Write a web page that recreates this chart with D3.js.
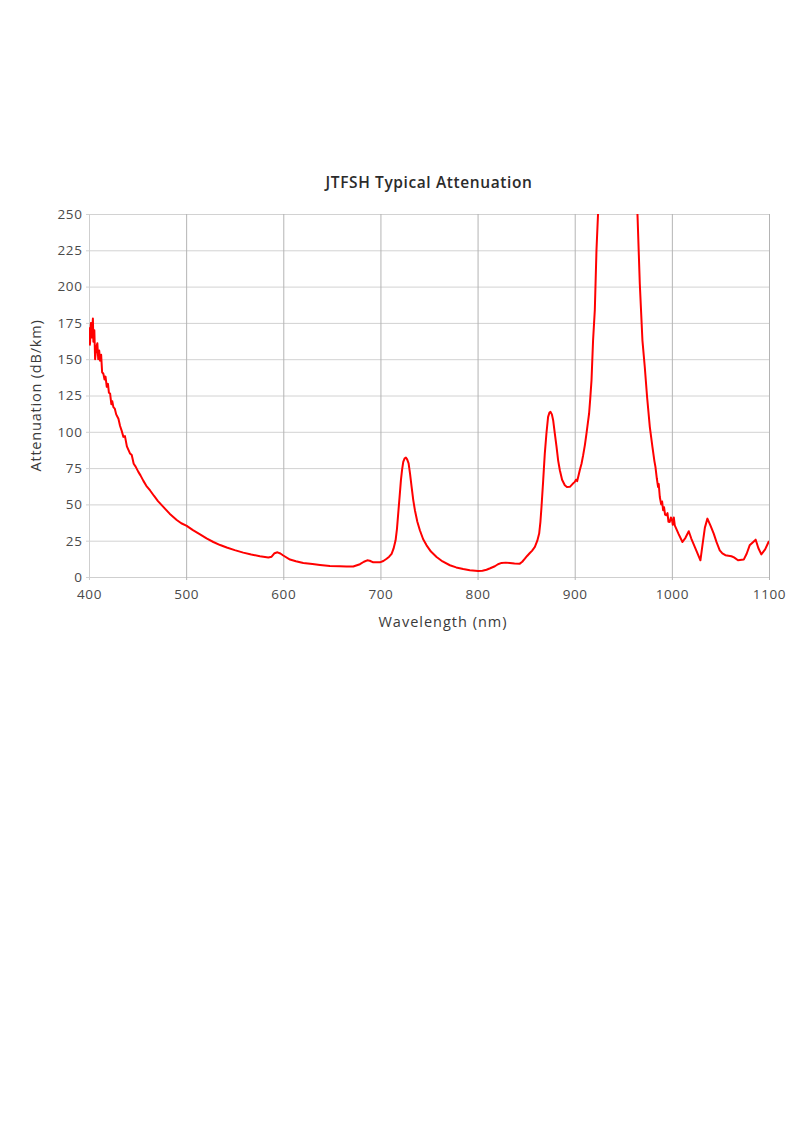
<!DOCTYPE html>
<html>
<head>
<meta charset="utf-8">
<script src="https://cdn.jsdelivr.net/npm/d3@7"></script>
<style>
  body { margin: 0; background: #fff; }
  text { font-family: "Open Sans", "DejaVu Sans", sans-serif; }
</style>
</head>
<body>
<div id="chart"></div>
<script>
// wavelength (nm)
const wavelengths = [
  400, 401, 402, 403, 404, 404.5, 405.5, 406.3, 407.5, 408.6, 409.5, 410.5, 411.4, 412.5, 413.5, 414.8,
  416, 417, 418.3, 419.5, 420.5, 421.7, 423, 424, 425.1, 426.5, 428, 430.3, 432, 433.5, 435.4, 437,
  439, 442.3, 444, 446, 448, 450.8, 453, 456, 459, 462.9, 467, 471, 476.5, 483, 490.3, 495,
  500.6, 507, 514.3, 521, 528, 535, 541.8, 550, 558.8, 567, 576, 584.6, 588, 591, 594, 597,
  600, 606.9, 613, 620.6, 630, 637.8, 648, 658, 665, 672, 678.9, 683, 686.4, 689, 692.6, 699.4,
  703, 706.4, 709, 711.5, 713.5, 715.6, 717, 718.3, 719.7, 721.1, 722.3, 723.5, 725, 726.2, 727.5, 729,
  730.5, 732.1, 733.8, 735.5, 738, 740.6, 744, 747.5, 752, 757.8, 764, 771.5, 778, 785.2, 792, 800.6,
  805, 809.2, 813, 817.8, 821, 824.7, 829, 833.2, 838, 843.5, 846, 848.7, 851, 853.8, 856, 859,
  861.5, 863.4, 864.7, 865.8, 867.5, 869.2, 870.9, 872.6, 874, 875.1, 876.5, 877.8, 879.5, 881.3, 883, 884.7,
  887, 889.8, 892, 895, 897.7, 900.1, 901.3, 902.5, 904, 905.2, 907, 908.7, 910.5, 912.1, 913.5, 914.8,
  916, 917.3, 918.9, 920.7, 922.4, 924, 926, 930, 938, 945, 952, 958, 962, 964.6, 967, 969.7,
  972.1, 974.5, 977.3, 980, 982, 983.1, 984.5, 985.8, 986.5, 987.6, 989, 990, 991, 992, 993, 994.4,
  995.5, 996.5, 997.8, 999, 1000.2, 1001, 1002, 1003, 1007, 1010.9, 1014, 1017.4, 1020, 1025, 1029.4, 1031.5,
  1034, 1036.6, 1040, 1043.1, 1046, 1049.3, 1052, 1055.1, 1061.3, 1064, 1068.1, 1074, 1077, 1080.1, 1086.3, 1089,
  1092.1, 1096, 1100
];

// attenuation (dB/km) at each wavelength above
const attenuation = [
  172, 160, 175, 165, 178, 162, 170, 150, 158, 161, 150, 156, 149, 153, 141, 140,
  136, 138, 131, 133, 127, 126.4, 119, 121, 117, 116, 112, 109, 104, 101, 96.5, 97,
  90, 85, 84, 78, 76, 72.4, 70, 66.2, 62.8, 59.6, 55.8, 52.3, 48.3, 43.6, 39.3, 37,
  35.2, 32.3, 29.4, 26.6, 24.1, 22, 20.3, 18.5, 16.8, 15.5, 14.3, 13.4, 14, 16.4, 17, 16.2,
  14.8, 12, 10.8, 9.7, 8.9, 8.3, 7.6, 7.4, 7.3, 7.2, 8.8, 10.5, 11.5, 11.2, 10.1, 10.1,
  11, 12.6, 14, 16, 19.5, 25.3, 33, 43.7, 55, 66.7, 74, 79.3, 81.8, 82.3, 81, 78.2,
  71, 62, 53, 46, 38, 32.2, 26, 21.8, 17.5, 13.8, 10.7, 8.1, 6.6, 5.5, 4.7, 4.1,
  4.3, 5, 6, 7.4, 8.8, 9.7, 9.9, 9.7, 9.3, 9.2, 10.5, 12.6, 14.5, 16.5, 18, 20.7,
  25, 29.9, 38, 48.2, 66, 85, 99, 110.3, 113.2, 113.7, 112, 108, 99, 89.6, 80, 73.5,
  67, 63.2, 62, 62.1, 64, 65.5, 67, 66, 70, 73.5, 78, 83.9, 91, 98.8, 106, 112.6,
  123, 135.6, 163, 184, 225, 250, 290, 340, 380, 395, 380, 330, 285, 250, 202, 163,
  144.8, 124, 103.4, 89.6, 80, 75.8, 68, 62, 64, 55.1, 50, 52, 46, 48, 43, 42.5,
  44, 38, 37.9, 41, 39, 36, 41, 35.6, 29.5, 24.1, 27, 31.5, 26.5, 18.5, 11.5, 22,
  34, 40.2, 35, 29.9, 24, 18.4, 16.3, 15, 14.3, 13.5, 11.5, 12, 16, 21.8, 25.7, 20,
  15.6, 19, 24.8
];

const xTicks = [400, 500, 600, 700, 800, 900, 1000, 1100];
const yTicks = [0, 25, 50, 75, 100, 125, 150, 175, 200, 225, 250];

const width = 804;
const height = 1145;
const plot = { left: 89, right: 769, top: 214, bottom: 577 };

const series = wavelengths.map((w, i) => ({ wl: w, att: attenuation[i] }));

const xScale = d3.scaleLinear()
  .domain([400, 1100])
  .range([plot.left, plot.right]);

const yScale = d3.scaleLinear()
  .domain([0, 250])
  .range([plot.bottom, plot.top]);

const svg = d3.select("#chart")
  .append("svg")
  .attr("width", width)
  .attr("height", height)
  .attr("viewBox", `0 0 ${width} ${height}`);

svg.append("defs").append("clipPath")
  .attr("id", "plot-clip")
  .append("rect")
  .attr("x", plot.left)
  .attr("y", plot.top)
  .attr("width", plot.right - plot.left)
  .attr("height", plot.bottom - plot.top);

// horizontal gridlines (with the little outside ticks)
const yAxis = svg.append("g")
  .attr("transform", `translate(${plot.left},0)`)
  .call(d3.axisLeft(yScale)
    .tickValues(yTicks)
    .tickSize(-(plot.right - plot.left))
    .tickSizeOuter(0)
    .tickPadding(7));
yAxis.select(".domain").attr("stroke", "#cfcfcf");
yAxis.selectAll(".tick line")
  .attr("stroke", "#d2d2d2")
  .attr("x1", -3);
yAxis.selectAll(".tick text")
  .attr("fill", "#4a4a4a")
  .attr("dx", "0.5")
  .style("font-size", "13.5px")
  .style("letter-spacing", "0.6px");

// vertical gridlines
const xAxis = svg.append("g")
  .attr("transform", `translate(0,${plot.bottom})`)
  .call(d3.axisBottom(xScale)
    .tickValues(xTicks)
    .tickFormat(d3.format("d"))
    .tickSize(-(plot.bottom - plot.top))
    .tickSizeOuter(0)
    .tickPadding(12));
xAxis.select(".domain").attr("stroke", "#cfcfcf");
xAxis.selectAll(".tick line")
  .attr("stroke", (d) => d === 400 ? "#cfcfcf" : "#b4b4b4")
  .attr("y1", 3);
xAxis.selectAll(".tick text")
  .attr("fill", "#4a4a4a")
  .style("font-size", "13.5px")
  .style("letter-spacing", "0.6px");

// attenuation curve
const line = d3.line()
  .x((d) => xScale(d.wl))
  .y((d) => yScale(d.att));

svg.append("path")
  .datum(series)
  .attr("clip-path", "url(#plot-clip)")
  .attr("fill", "none")
  .attr("stroke", "#ff0000")
  .attr("stroke-width", 2)
  .attr("stroke-linejoin", "round")
  .attr("d", line);

// titles
svg.append("text")
  .attr("x", (plot.left + plot.right) / 2)
  .attr("y", 188)
  .attr("text-anchor", "middle")
  .attr("fill", "#2b2b2b")
  .style("font-size", "15.5px")
  .style("font-weight", "600")
  .style("letter-spacing", "0.6px")
  .text("JTFSH Typical Attenuation");

svg.append("text")
  .attr("x", 443)
  .attr("y", 627)
  .attr("text-anchor", "middle")
  .attr("fill", "#3a3a3a")
  .style("font-size", "14.5px")
  .style("letter-spacing", "1px")
  .text("Wavelength (nm)");

svg.append("text")
  .attr("transform", `translate(41,${(plot.top + plot.bottom) / 2}) rotate(-90)`)
  .attr("text-anchor", "middle")
  .attr("fill", "#3a3a3a")
  .style("font-size", "14.5px")
  .style("letter-spacing", "0.8px")
  .text("Attenuation (dB/km)");
</script>
</body>
</html>
